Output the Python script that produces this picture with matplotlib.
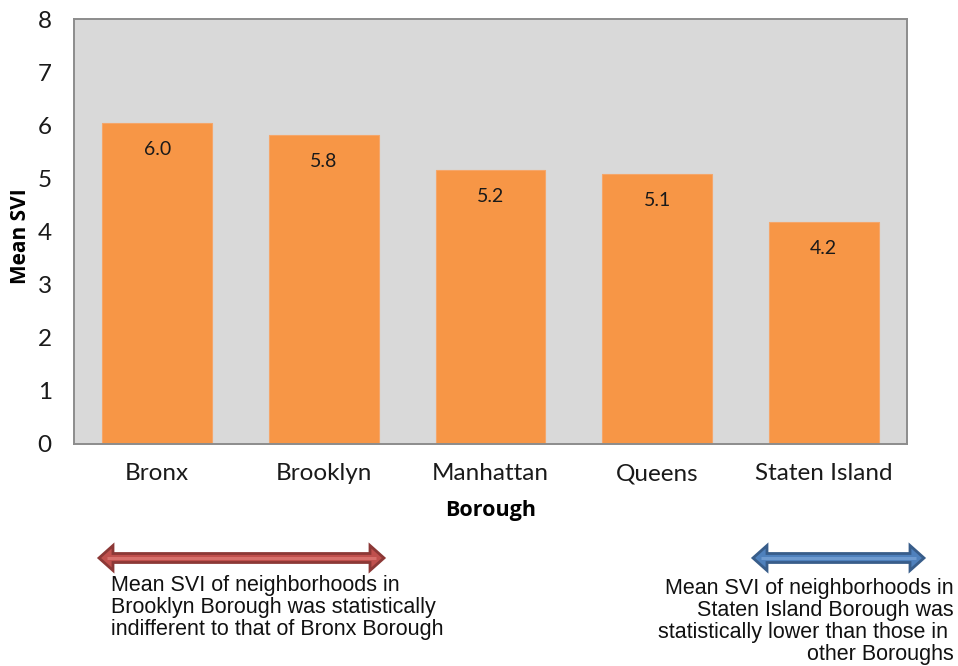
import matplotlib
matplotlib.use("Agg")
import matplotlib.pyplot as plt
from matplotlib.patches import Polygon

boroughs = ["Bronx", "Brooklyn", "Manhattan", "Queens", "Staten Island"]
mean_svi = [6.04, 5.82, 5.16, 5.08, 4.18]
y_ticks = [0, 1, 2, 3, 4, 5, 6, 7, 8]

note_left = ("Mean SVI of neighborhoods in\n"
             "Brooklyn Borough was statistically\n"
             "indifferent to that of Bronx Borough")
note_right = ("Mean SVI of neighborhoods in\n"
              "Staten Island Borough was\n"
              "statistically lower than those in \n"
              "other Boroughs")

W, H = 958, 666
fig = plt.figure(figsize=(W / 100, H / 100), dpi=100)
fig.patch.set_facecolor("white")


def fx(px):
    return px / W


def fy(py):
    return 1 - py / H


ax = fig.add_axes([fx(74), fy(444), fx(907) - fx(74), fy(19) - fy(444)])
ax.set_facecolor("#d9d9d9")

tick_font = "Lato"
x = list(range(len(boroughs)))
ax.bar(x, mean_svi, width=0.66, color="#f79646", edgecolor="#f5a66a",
       linewidth=0.8, zorder=2)
for xi, v in zip(x, mean_svi):
    ax.text(xi, v - 0.5, f"{v:.1f}", ha="center", va="center",
            fontsize=14, family=tick_font, color="#1a1a1a", zorder=3)

ax.set_xlim(-0.5, len(boroughs) - 0.5)
ax.set_ylim(0, 8)
ax.set_yticks(y_ticks)
ax.set_xticks(x)
ax.set_xticklabels(boroughs, fontsize=17.5, family=tick_font, color="#1a1a1a")
ax.set_yticklabels([str(t) for t in y_ticks], fontsize=17.5, family=tick_font,
                   color="#1a1a1a")
ax.tick_params(axis="both", length=0)
ax.tick_params(axis="y", pad=16)
ax.tick_params(axis="x", pad=14)
for s in ax.spines.values():
    s.set_color("#8c8c8c")
    s.set_linewidth(1.4)

ax.set_ylabel("Mean SVI", fontsize=15, fontweight="bold", family="Open Sans")
ax.set_xlabel("Borough", fontsize=15.5, fontweight="bold", family="Open Sans")
ax.yaxis.set_label_coords(fx(31), fy(236), transform=fig.transFigure)
ax.xaxis.set_label_coords(fx(491), fy(500), transform=fig.transFigure)


def double_arrow(x0, x1, yc, fill, edge, light):
    half = 4.5
    hw = 12.5
    hl = 14
    pts = [(x0, yc), (x0 + hl, yc - hw), (x0 + hl, yc - half),
           (x1 - hl, yc - half), (x1 - hl, yc - hw), (x1, yc),
           (x1 - hl, yc + hw), (x1 - hl, yc + half), (x0 + hl, yc + half),
           (x0 + hl, yc + hw)]
    poly = Polygon([(fx(a), fy(b)) for a, b in pts], closed=True,
                   transform=fig.transFigure, facecolor=fill, edgecolor=edge,
                   linewidth=2.0, joinstyle="miter")
    fig.patches.append(poly)
    fig.add_artist(plt.Line2D([fx(x0 + 8), fx(x1 - 8)], [fy(yc), fy(yc)],
                              transform=fig.transFigure, color=light,
                              linewidth=2.2, solid_capstyle="butt"))


double_arrow(99, 384, 558, "#c0504d", "#8c3836", "#d7706c")
double_arrow(753, 924, 558, "#4f81bd", "#385d8a", "#6f9bd0")

fig.text(fx(111), fy(575), note_left, ha="left", va="top", fontsize=15.5,
         family="Liberation Sans", linespacing=1.07, color="#111111")
fig.text(fx(954), fy(578), note_right, ha="right", va="top", fontsize=15.5,
         family="Liberation Sans", linespacing=1.07, color="#111111",
         multialignment="right")

fig.savefig("out.png", dpi=100, facecolor="white")
